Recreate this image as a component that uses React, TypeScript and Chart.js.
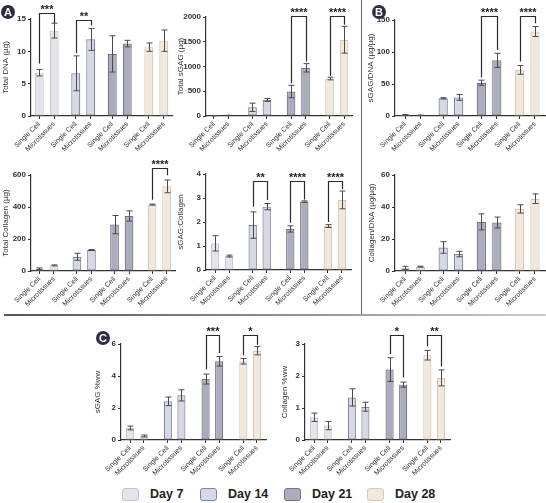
import React, { useEffect, useRef } from 'react';
import { Chart, registerables } from 'chart.js';
Chart.register(...registerables);

// ---------- data ----------
const CATEGORIES = ['Single Cell', 'Microtissues'];
const DAYS = ['Day 7', 'Day 14', 'Day 21', 'Day 28'];
const DAY_FILL = ['#E4E5EA', '#D6D9E4', '#ACADBC', '#F1E9DE'];
const DAY_BORDER = ['#C4C6CD', '#80859F', '#71738A', '#D9C7B0'];

// order: SC d7, MT d7, SC d14, MT d14, SC d21, MT d21, SC d28, MT d28
const totalDNA = [6.7, 13.2, 6.6, 11.85, 9.6, 11.2, 10.65, 11.65];
const totalDNAErr = [0.5, 1.15, 2.7, 1.7, 2.8, 0.5, 0.65, 1.65];
const totalDNASig = [
  { group: 0, top: 15.9, left: 8.1, right: 14.4, label: '***' },
  { group: 1, top: 14.9, left: 9.7, right: 14.0, label: '**' },
];

const totalSGAG = [8, 12, 175, 324, 495, 973, 757, 1540];
const totalSGAGErr = [3, 4, 85, 30, 125, 85, 27, 270];
const totalSGAGSig = [
  { group: 2, top: 2030, left: 662, right: 1100, label: '****' },
  { group: 3, top: 2030, left: 810, right: 1845, label: '****' },
];

const sgagDNA = [1.8, 1.2, 27.6, 29, 52, 87, 72, 132];
const sgagDNAErr = [0.4, 0.3, 1, 4.5, 4, 11, 6.8, 7.8];
const sgagDNASig = [
  { group: 2, top: 156, left: 60, right: 103, label: '****' },
  { group: 3, top: 156, left: 85, right: 145, label: '****' },
];

const totalCollagen = [14.5, 35, 89, 131, 290, 344, 415, 529];
const totalCollagenErr = [5, 3, 22, 3, 57, 32, 3, 40];
const totalCollagenSig = [
  { group: 3, top: 645, left: 446, right: 598, label: '****' },
];

const sgagCollagen = [1.11, 0.58, 1.87, 2.64, 1.71, 2.85, 1.83, 2.92];
const sgagCollagenErr = [0.32, 0.04, 0.55, 0.13, 0.13, 0.03, 0.06, 0.37];
const sgagCollagenSig = [
  { group: 1, top: 3.72, left: 2.64, right: 2.92, label: '**' },
  { group: 2, top: 3.72, left: 1.97, right: 2.94, label: '****' },
  { group: 3, top: 3.72, left: 2.0, right: 3.36, label: '****' },
];

const collagenDNA = [1.9, 2.7, 14.7, 10.6, 30.7, 30.3, 38.8, 45.2];
const collagenDNAErr = [1, 0.3, 3.6, 1.7, 5, 3.4, 2.6, 3];

const sgagWW = [0.75, 0.25, 2.42, 2.79, 3.81, 4.92, 4.92, 5.58];
const sgagWWErr = [0.12, 0.06, 0.27, 0.35, 0.31, 0.3, 0.17, 0.26];
const sgagWWSig = [
  { group: 2, top: 6.54, left: 4.4, right: 5.44, label: '***' },
  { group: 3, top: 6.54, left: 5.29, right: 5.96, label: '*' },
];

const collagenWW = [0.71, 0.45, 1.33, 1.04, 2.2, 1.73, 2.65, 1.94];
const collagenWWErr = [0.13, 0.13, 0.27, 0.14, 0.37, 0.08, 0.15, 0.25];
const collagenWWSig = [
  { group: 2, top: 3.27, left: 2.69, right: 1.95, label: '*' },
  { group: 3, top: 3.29, left: 2.93, right: 2.3, label: '**' },
];

// ---------- layout ----------
type Sig = { group: number; top: number; left: number; right: number; label: string };
type Spec = {
  title: string; values: number[]; errors: number[]; yMax: number; yStep: number; sig: Sig[];
  box: number[]; yw: number; xh: number; padTop: number; padRight: number; titlePad: number;
  stride: number; margin: number;
};

const FONT = '"Liberation Sans", Arial, Helvetica, sans-serif';
const INK = '#333333';

const SPECS: Spec[] = [
  { title: 'Total DNA (µg)', values: totalDNA, errors: totalDNAErr, yMax: 15, yStep: 5, sig: totalDNASig,
    box: [0, 0, 176, 165], yw: 31, xh: 49, padTop: 19, padRight: 4, titlePad: 1, stride: 2.44, margin: 0.55 },
  { title: 'Total sGAG (µg)', values: totalSGAG, errors: totalSGAGErr, yMax: 2000, yStep: 500, sig: totalSGAGSig,
    box: [176, 0, 180, 165], yw: 30, xh: 49, padTop: 17, padRight: 4, titlePad: 0, stride: 2.66, margin: 0.55 },
  { title: 'sGAG/DNA (µg/µg)', values: sgagDNA, errors: sgagDNAErr, yMax: 150, yStep: 50, sig: sgagDNASig,
    box: [362, 0, 184, 165], yw: 33, xh: 49, padTop: 20, padRight: 1, titlePad: 4, stride: 2.47, margin: 0.65 },
  { title: 'Total Collagen (µg)', values: totalCollagen, errors: totalCollagenErr, yMax: 600, yStep: 200, sig: totalCollagenSig,
    box: [0, 160, 178, 155], yw: 31, xh: 44, padTop: 15, padRight: 3, titlePad: 1, stride: 2.59, margin: 0.58 },
  { title: 'sGAG:Collagen', values: sgagCollagen, errors: sgagCollagenErr, yMax: 4, yStep: 1, sig: sgagCollagenSig,
    box: [176, 160, 180, 155], yw: 30, xh: 45, padTop: 14, padRight: 5, titlePad: 0, stride: 2.69, margin: 0.65 },
  { title: 'Collagen/DNA (µg/µg)', values: collagenDNA, errors: collagenDNAErr, yMax: 60, yStep: 20, sig: [],
    box: [362, 160, 184, 155], yw: 33, xh: 44, padTop: 15, padRight: 1, titlePad: 5, stride: 2.47, margin: 0.65 },
  { title: 'sGAG %ww', values: sgagWW, errors: sgagWWErr, yMax: 6, yStep: 2, sig: sgagWWSig,
    box: [85, 318, 185, 162], yw: 36, xh: 40, padTop: 26, padRight: 4, titlePad: 8, stride: 2.78, margin: 0.67 },
  { title: 'Collagen %ww', values: collagenWW, errors: collagenWWErr, yMax: 3, yStep: 1, sig: collagenWWSig,
    box: [270, 318, 185, 162], yw: 35, xh: 40, padTop: 26, padRight: 5, titlePad: 10, stride: 2.78, margin: 0.67 },
];

function BarPanel({ spec }: { spec: Spec }) {
  const ref = useRef<HTMLCanvasElement>(null);
  useEffect(() => {
    const xs = spec.values.map((_, i) => Math.floor(i / 2) * spec.stride + (i % 2));
    const groupIdx = spec.values.map((_, i) => Math.floor(i / 2));
    const overlay = {
      id: 'overlay',
      afterDatasetsDraw(chart: any) {
        const ctx = chart.ctx;
        const xS = chart.scales.x;
        const yS = chart.scales.y;
        ctx.save();
        ctx.strokeStyle = '#4a4a4a';
        ctx.lineWidth = 1;
        spec.values.forEach((v, i) => {
          const e = spec.errors[i];
          const px = Math.round(xS.getPixelForValue(xs[i])) + 0.5;
          const y1 = yS.getPixelForValue(v + e);
          const y2 = yS.getPixelForValue(Math.max(v - e, 0));
          ctx.beginPath();
          ctx.moveTo(px, y1); ctx.lineTo(px, y2);
          ctx.moveTo(px - 3, y1); ctx.lineTo(px + 3, y1);
          ctx.moveTo(px - 3, y2); ctx.lineTo(px + 3, y2);
          ctx.stroke();
        });
        ctx.strokeStyle = '#2a2a2a';
        ctx.lineWidth = 1.2;
        ctx.fillStyle = '#222';
        ctx.font = 'bold 11px ' + FONT;
        ctx.textAlign = 'center';
        ctx.textBaseline = 'alphabetic';
        spec.sig.forEach((s) => {
          const xa = Math.round(xS.getPixelForValue(s.group * spec.stride)) + 0.5;
          const xb = Math.round(xS.getPixelForValue(s.group * spec.stride + 1)) + 0.5;
          const yt = Math.round(yS.getPixelForValue(s.top)) + 0.5;
          ctx.beginPath();
          ctx.moveTo(xa, yS.getPixelForValue(s.left));
          ctx.lineTo(xa, yt);
          ctx.lineTo(xb, yt);
          ctx.lineTo(xb, yS.getPixelForValue(s.right));
          ctx.stroke();
          ctx.fillText(s.label, (xa + xb) / 2, yt - 0.5);
        });
        ctx.restore();
      },
    };
    const chart = new Chart(ref.current as HTMLCanvasElement, {
      type: 'bar',
      data: {
        datasets: [{
          data: xs.map((x, i) => ({ x, y: spec.values[i] })) as any,
          backgroundColor: groupIdx.map((g) => DAY_FILL[g]),
          borderColor: groupIdx.map((g) => DAY_BORDER[g]),
          borderWidth: 1.2,
          borderSkipped: false,
          barPercentage: 0.6,
          categoryPercentage: 1,
        }],
      },
      options: {
        animation: false,
        responsive: false,
        maintainAspectRatio: false,
        layout: { padding: { top: spec.padTop, right: spec.padRight, left: 0, bottom: 0 } },
        plugins: { legend: { display: false }, tooltip: { enabled: false } },
        scales: {
          x: {
            type: 'linear',
            min: -spec.margin,
            max: 3 * spec.stride + 1 + spec.margin,
            offset: false,
            bounds: 'data',
            afterBuildTicks: (scale: any) => { scale.ticks = xs.map((v) => ({ value: v })); },
            afterFit: (scale: any) => { scale.height = spec.xh; },
            grid: { display: true, drawOnChartArea: false, drawTicks: true, tickLength: 3, color: INK, offset: false },
            border: { display: true, color: INK, width: 1.2 },
            ticks: {
              autoSkip: false, minRotation: 45, maxRotation: 45, padding: 1, color: INK,
              font: { family: FONT, size: 7 },
              callback: (_v: any, idx: number) => CATEGORIES[idx % 2],
            },
          },
          y: {
            type: 'linear',
            min: 0,
            max: spec.yMax,
            afterFit: (scale: any) => { scale.width = spec.yw; },
            grid: { display: true, drawOnChartArea: false, drawTicks: true, tickLength: 3, color: INK },
            border: { display: true, color: INK, width: 1.2 },
            ticks: {
              stepSize: spec.yStep, padding: 2, color: INK, font: { family: FONT, size: 8, weight: 'bold' },
              callback: (v: any) => String(v),
            },
            title: {
              display: true, text: spec.title, color: INK,
              font: { family: FONT, size: 8 }, padding: { top: spec.titlePad, bottom: 0 },
            },
          },
        },
      } as any,
      plugins: [overlay],
    });
    return () => chart.destroy();
  }, [spec]);
  const [l, t, w, h] = spec.box;
  return (
    <canvas ref={ref} width={w} height={h}
      style={{ position: 'absolute', left: l, top: t, width: w, height: h }} />
  );
}

function Badge({ x, y, letter }: { x: number; y: number; letter: string }) {
  return (
    <div style={{
      position: 'absolute', left: x - 7, top: y - 7, width: 14, height: 14, borderRadius: 7,
      background: '#2B2D45', color: '#fff', fontFamily: FONT, fontWeight: 'bold', fontSize: 11,
      lineHeight: '14px', textAlign: 'center',
    }}>{letter}</div>
  );
}

const LEGEND_X = [122, 200, 284, 367];

export default function App() {
  return (
    <div style={{ position: 'absolute', left: 0, top: 0, width: 546, height: 503, background: '#fff', overflow: 'hidden' }}>
      {SPECS.map((s, i) => <BarPanel key={i} spec={s} />)}
      <div style={{ position: 'absolute', left: 360.5, top: 0, width: 1.5, height: 315, background: '#666' }} />
      <div style={{ position: 'absolute', left: 4, top: 314, width: 542, height: 1.5,
        background: 'linear-gradient(to right, #555, #999 60%, #ccc)' }} />
      <Badge x={8} y={12} letter="A" />
      <Badge x={379} y={12} letter="B" />
      <Badge x={103} y={338} letter="C" />
      {DAYS.map((d, i) => (
        <React.Fragment key={d}>
          <div style={{
            position: 'absolute', left: LEGEND_X[i], top: 488, width: 15, height: 11,
            background: DAY_FILL[i], border: '1px solid ' + DAY_BORDER[i], borderRadius: 3,
          }} />
          <div style={{
            position: 'absolute', left: LEGEND_X[i] + 28, top: 488, fontFamily: FONT, fontWeight: 'bold',
            fontSize: 12.5, lineHeight: '13px', color: '#222', whiteSpace: 'nowrap',
          }}>{d}</div>
        </React.Fragment>
      ))}
    </div>
  );
}
